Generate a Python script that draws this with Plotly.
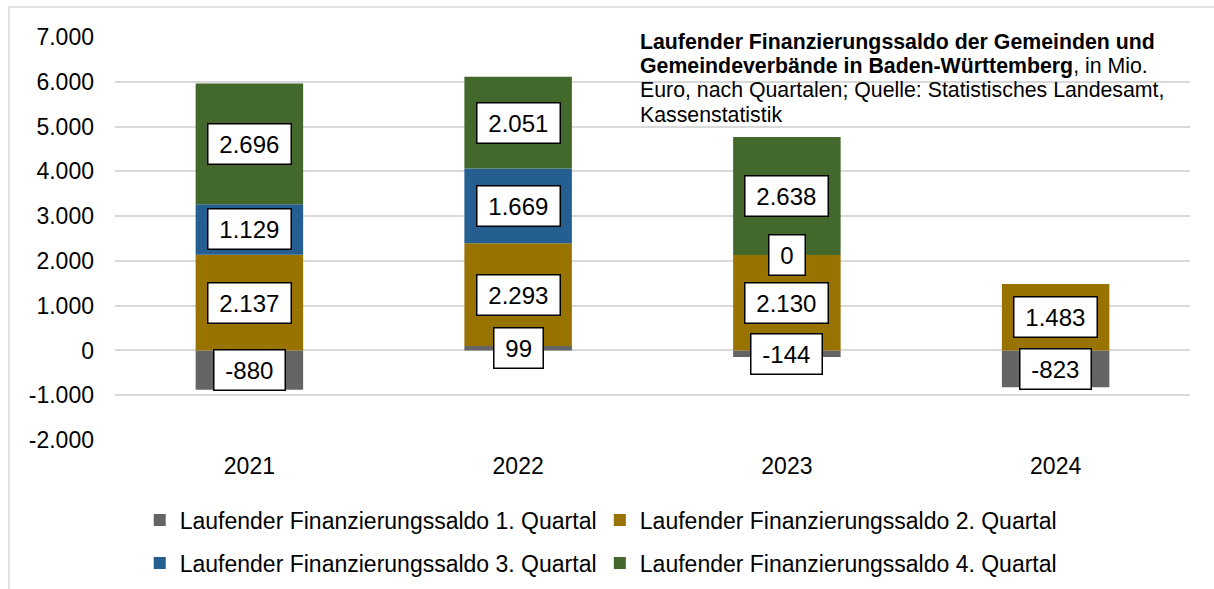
import plotly.graph_objects as go

# Laufender Finanzierungssaldo (Mio. Euro) je Quartal
years = ["2021", "2022", "2023", "2024"]
q1 = [-880, 99, -144, -823]
q2 = [2137, 2293, 2130, 1483]
q3 = [1129, 1669, 0, None]
q4 = [2696, 2051, 2638, None]

series_names = [
    "Laufender Finanzierungssaldo 1. Quartal",
    "Laufender Finanzierungssaldo 2. Quartal",
    "Laufender Finanzierungssaldo 3. Quartal",
    "Laufender Finanzierungssaldo 4. Quartal",
]
series_colors = ["#646464", "#997300", "#255E91", "#43682B"]
y_ticks = [-2000, -1000, 0, 1000, 2000, 3000, 4000, 5000, 6000, 7000]

title_lines = [
    "<b>Laufender Finanzierungssaldo der Gemeinden und</b>",
    "<b>Gemeindeverbände in Baden-Württemberg</b>, in Mio.",
    "Euro, nach Quartalen; Quelle: Statistisches Landesamt,",
    "Kassenstatistik",
]

FONT = "Liberation Sans, Arial, sans-serif"
PLOT_TOP, PLOT_BOTTOM = 37, 440
PLOT_H = PLOT_BOTTOM - PLOT_TOP
THIN = "\u2009"


def de_num(v):
    return f"{v:,}".replace(",", ".")


def paper_y(px):
    return (PLOT_BOTTOM - px) / PLOT_H


series = [q1, q2, q3, q4]
legend_ids = ["legend", "legend2", "legend3", "legend4"]

fig = go.Figure()
for name, vals, col, lg in zip(series_names, series, series_colors, legend_ids):
    fig.add_trace(go.Bar(
        x=years, y=vals, name=name, width=0.4,
        marker=dict(color=col, line=dict(width=0)),
        legend=lg, hoverinfo="skip",
    ))

# Value boxes centred on each stacked segment (x given as category index)
annotations = []
for i, yr in enumerate(years):
    pos_base, neg_base = 0, 0
    for vals in series:
        v = vals[i]
        if v is None:
            continue
        if v >= 0:
            center = pos_base + v / 2
            pos_base += v
        else:
            center = neg_base + v / 2
            neg_base += v
        annotations.append(dict(
            x=i, y=center, xref="x", yref="y",
            text=THIN + de_num(v) + THIN, showarrow=False,
            font=dict(family=FONT, size=24, color="#000000"),
            bgcolor="#FFFFFF", bordercolor="#000000", borderwidth=1.5, borderpad=6,
        ))

# Chart caption, one annotation per line for tight line spacing
for k, line in enumerate(title_lines):
    annotations.append(dict(
        x=0.4865, y=paper_y(42 + 24.2 * k), xref="paper", yref="paper",
        xanchor="left", yanchor="middle", align="left", showarrow=False,
        text=line, font=dict(family=FONT, size=21.3, color="#000000"),
    ))

legend_style = dict(orientation="h", font=dict(family=FONT, size=23, color="#000000"),
                    bgcolor="rgba(0,0,0,0)", yanchor="middle", xanchor="left",
                    itemclick=False, itemdoubleclick=False)
legend_pos = [(0.023, paper_y(520)), (0.451, paper_y(520)),
              (0.023, paper_y(563)), (0.451, paper_y(563))]

layout_legends = {}
for lg, (lx, ly) in zip(legend_ids, legend_pos):
    layout_legends[lg] = dict(x=lx, y=ly, **legend_style)

fig.update_layout(
    width=1214, height=589,
    margin=dict(l=115, r=24, t=PLOT_TOP, b=589 - PLOT_BOTTOM, autoexpand=False),
    paper_bgcolor="#FFFFFF", plot_bgcolor="#FFFFFF",
    barmode="relative", bargap=0.6,
    showlegend=True,
    font=dict(family=FONT, size=23, color="#000000"),
    annotations=annotations,
    shapes=[dict(type="rect", xref="paper", yref="paper",
                 x0=-0.0986, x1=1.15, y0=-0.6, y1=paper_y(7),
                 line=dict(color="#D9D9D9", width=1.5), fillcolor="rgba(0,0,0,0)",
                 layer="below")],
    xaxis=dict(type="category", categoryorder="array", categoryarray=years,
               range=[-0.5, len(years) - 0.5],
               showgrid=False, zeroline=False, showline=False,
               ticks="", ticklabelstandoff=10,
               tickfont=dict(family=FONT, size=23, color="#000000")),
    yaxis=dict(range=[-2000, 7000], tickvals=y_ticks,
               ticktext=[de_num(t) for t in y_ticks],
               showgrid=True, gridcolor="#D9D9D9", gridwidth=1.5,
               zeroline=True, zerolinecolor="#D9D9D9", zerolinewidth=1.5,
               showline=False, ticks="", ticklabelstandoff=20,
               tickfont=dict(family=FONT, size=23, color="#000000")),
    **layout_legends,
)

fig.write_html("out.html")
